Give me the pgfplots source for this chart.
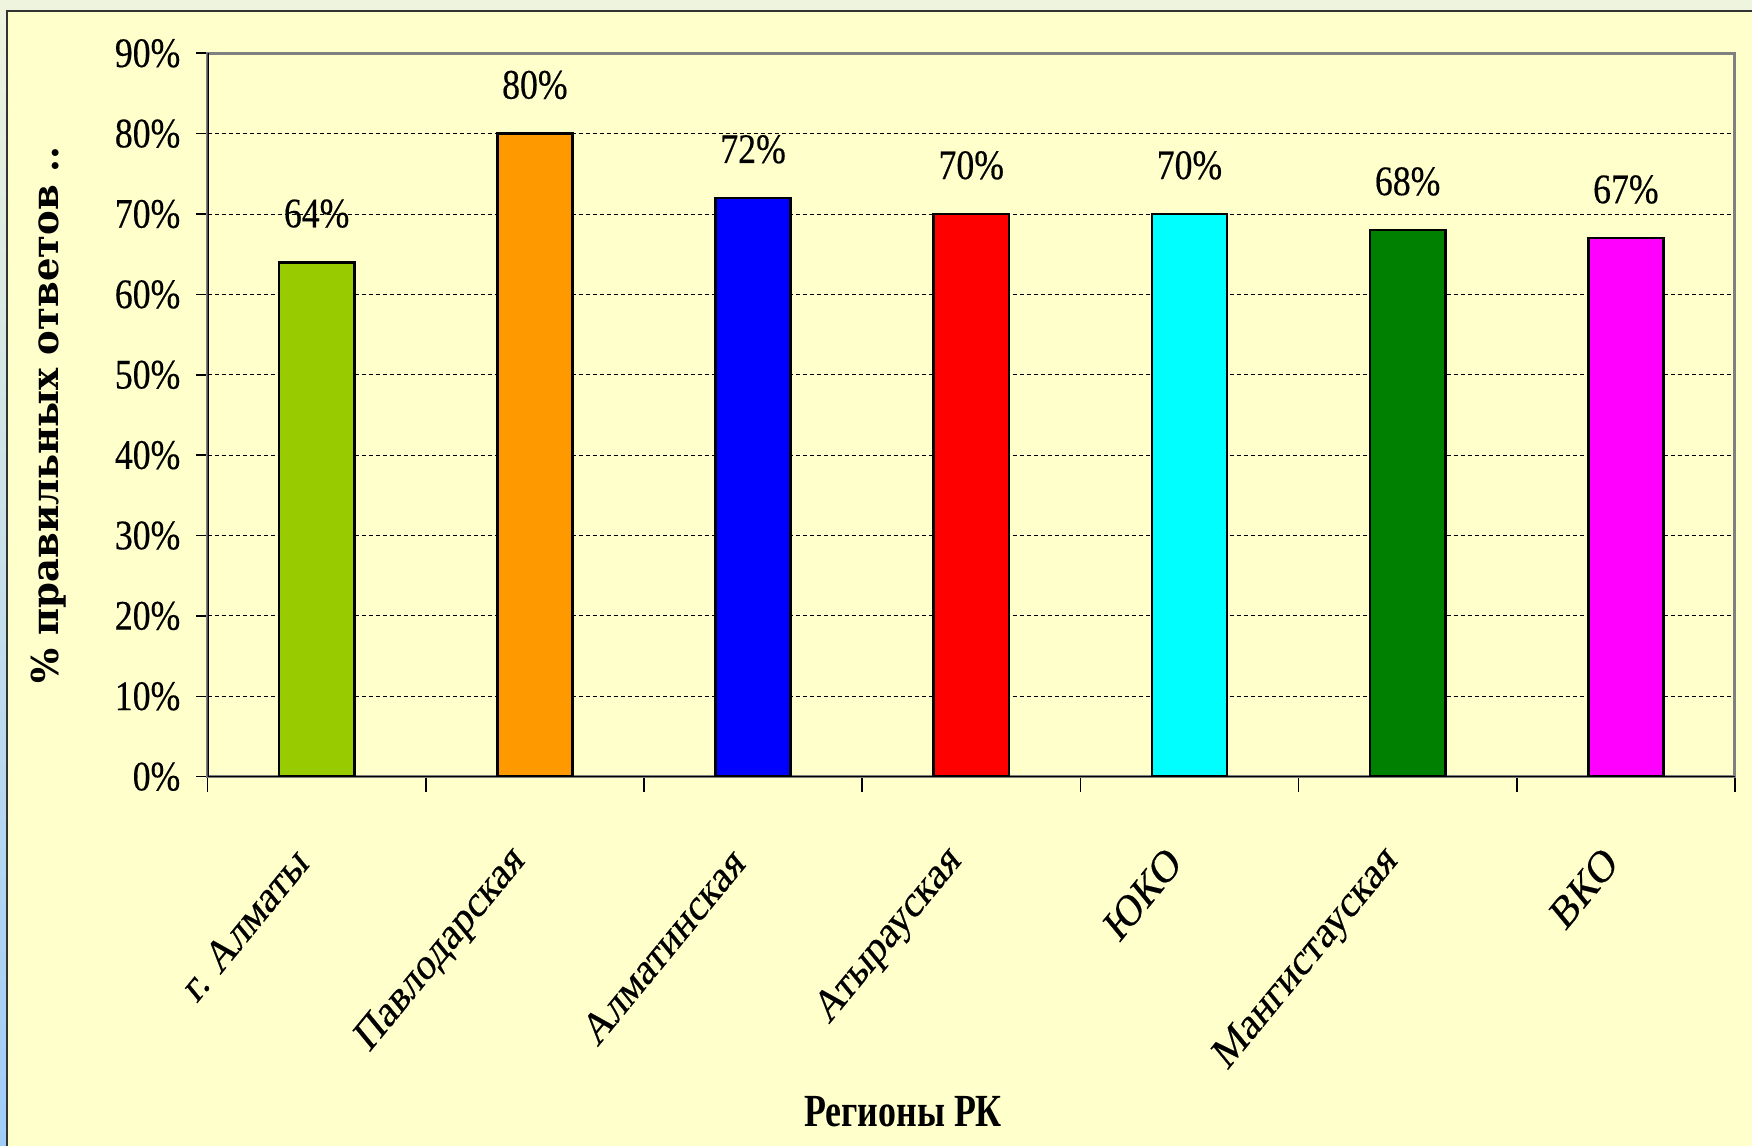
\documentclass[border=0pt]{standalone}
\usepackage{pgfplots}
\pgfplotsset{compat=1.18}
\usepackage{fontspec}
\setmainfont{Liberation Serif}
\newfontfamily\tickfont[FakeStretch=0.85,FakeBold=0.4]{Liberation Serif}
\newfontfamily\rotfont[FakeBold=0.4]{Liberation Serif}
\newfontfamily\xlabfont[FakeStretch=0.78]{Liberation Serif}
\newfontfamily\ylabfont{DejaVu Serif}
\definecolor{bg}{HTML}{FFFFCC}
\definecolor{topc}{HTML}{EEF4DE}
\definecolor{c1}{HTML}{99CC00}
\definecolor{c2}{HTML}{FF9900}
\definecolor{c3}{HTML}{0000FF}
\definecolor{c4}{HTML}{FF0000}
\definecolor{c5}{HTML}{00FFFF}
\definecolor{c6}{HTML}{008000}
\definecolor{c7}{HTML}{FF00FF}
\begin{document}
\begin{tikzpicture}[x=1pt,y=1pt]
\path[use as bounding box] (0pt,0pt) rectangle (876pt,573pt);
\fill[bg] (0pt,0pt) rectangle (876pt,573pt);
\fill[topc] (0pt,567.7pt) rectangle (876pt,573pt);
\shade[top color=topc, bottom color={rgb,255:red,160;green,204;blue,248}] (0pt,0pt) rectangle (3pt,567.7pt);
\draw[black!80, line width=1pt] (3.4pt,0pt) -- (3.4pt,567.7pt) -- (876pt,567.7pt);
\begin{axis}[
  at={(103.8pt,184.65pt)}, anchor=south west,
  width=763.7pt, height=361.7pt, scale only axis,
  xmin=-0.5, xmax=6.5, ymin=0, ymax=90,
  /pgf/number format/assume math mode=true,
  ytick={0,10,...,90},
  yticklabels={0\%,10\%,20\%,30\%,40\%,50\%,60\%,70\%,80\%,90\%},
  xtick={0,...,6},
  xticklabels={г. Алматы, Павлодарская, Алматинская, Атырауская, ЮКО, Мангистауская, ВКО},
  major x tick style={draw=none},
  minor xtick={-0.5,0.5,...,6.5},
  minor tick length=7.5pt,
  major tick length=5.6pt,
  tick align=outside,
  tick pos=left,
  tick style={black, line width=0.8pt},
  ymajorgrids,
  grid style={dash pattern=on 2pt off 1.5pt, black, line width=0.5pt},
  axis line style={draw=gray, line width=1.5pt},
  yticklabel style={font=\tickfont\fontsize{21}{21}\selectfont, xshift=-4.5pt},
  xticklabel style={font=\rotfont\fontsize{23}{23}\selectfont, anchor=east, xshift=-5.5pt, yshift=-31pt, xscale=0.82, rotate=45},
  ybar, bar width=0.344,
  every axis plot/.append style={bar shift=0pt, draw=black, line width=1.3pt},
  nodes near coords={\pgfmathprintnumber{\pgfplotspointmeta}\%},
  nodes near coords style={font=\tickfont\fontsize{21}{21}\selectfont, anchor=base, yshift=17.5pt},
  xlabel={Регионы РК},
  xlabel style={at={(axis description cs:0.4553,-0.4632)}, anchor=center, font=\xlabfont\bfseries\fontsize{23}{23}\selectfont},
  ylabel={\% правильных ответов ..},
  ylabel style={at={(axis description cs:-0.1040,0.5)}, anchor=center, font=\ylabfont\bfseries\fontsize{18.5}{18.5}\selectfont},
]
\addplot[fill=c1] coordinates {(0,64)};
\addplot[fill=c2] coordinates {(1,80)};
\addplot[fill=c3] coordinates {(2,72)};
\addplot[fill=c4] coordinates {(3,70)};
\addplot[fill=c5] coordinates {(4,70)};
\addplot[fill=c6] coordinates {(5,68)};
\addplot[fill=c7] coordinates {(6,67)};
\draw[black, line width=1.1pt] (rel axis cs:0,1) -- (rel axis cs:0,0) -- (rel axis cs:1,0);
\end{axis}
\end{tikzpicture}
\end{document}
